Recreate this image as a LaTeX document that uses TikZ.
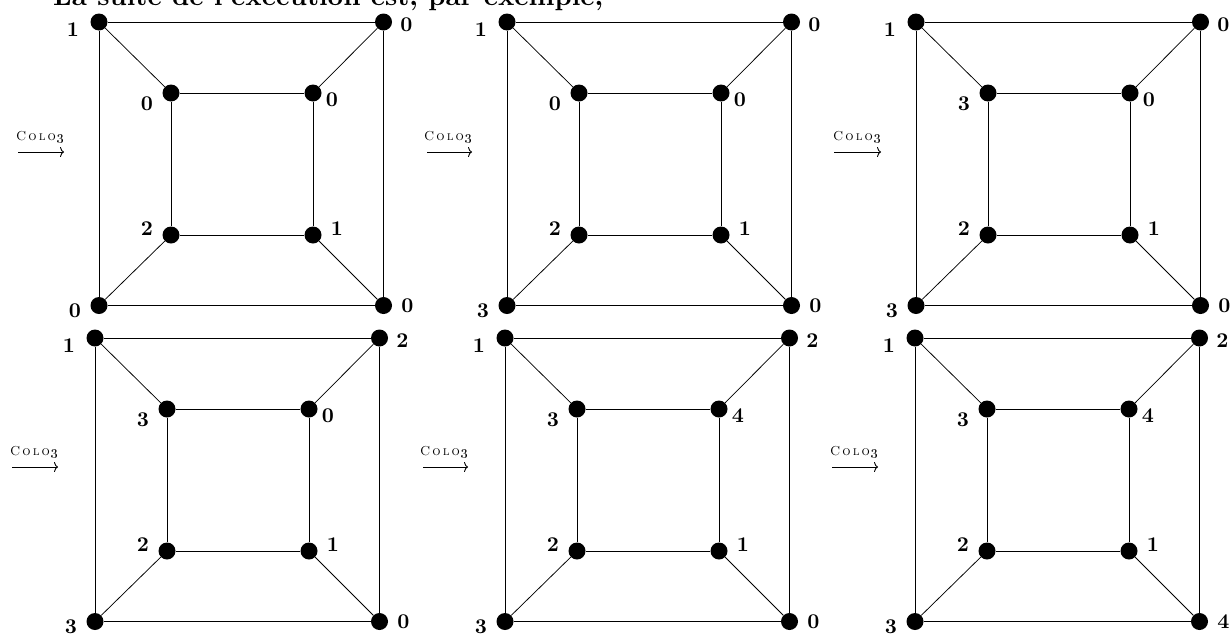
\documentclass[tikz,border=0pt]{standalone}
\usetikzlibrary{arrows.meta,calc}

% One cube graph: outer square a-b-c-d, inner square e-f-g-h, spokes between them
\newcommand{\cubegraph}[3]{%
  \begin{scope}[shift={(#2,#3)}]
    \node[vtx] (#1-a) at (0,0) {};
    \node[vtx] (#1-b) at (284.5,0) {};
    \node[vtx] (#1-c) at (284.5,283.5) {};
    \node[vtx] (#1-d) at (0,283.5) {};
    \node[vtx] (#1-e) at (72,71) {};
    \node[vtx] (#1-f) at (214,71) {};
    \node[vtx] (#1-g) at (214,213) {};
    \node[vtx] (#1-h) at (72,213) {};
  \end{scope}
  \draw[edge] (#1-a) -- (#1-b) -- (#1-c) -- (#1-d) -- (#1-a);
  \draw[edge] (#1-e) -- (#1-f) -- (#1-g) -- (#1-h) -- (#1-e);
  \draw[edge] (#1-a) -- (#1-e);
  \draw[edge] (#1-b) -- (#1-f);
  \draw[edge] (#1-c) -- (#1-g);
  \draw[edge] (#1-d) -- (#1-h);
}

% Bold colour value, enlarged
\newcommand{\val}[1]{\scalebox{2.1}{\bfseries #1}}

% Colour values written beside the eight vertices
\newcommand{\cubelabels}[9]{%
  \node[lbl] (#1-la) at ($(#1-a)+(-26,8)$) {\val{#2}};
  \node[lbl] (#1-lb) at ($(#1-b)+(23,3)$) {\val{#3}};
  \node[lbl] (#1-lc) at ($(#1-c)+(24,0)$) {\val{#4}};
  \node[lbl] (#1-ld) at ($(#1-d)+(-24,5.5)$) {\val{#5}};
  \node[lbl] (#1-le) at ($(#1-e)+(-24,11)$) {\val{#6}};
  \node[lbl] (#1-lf) at ($(#1-f)+(19,7)$) {\val{#7}};
  \node[lbl] (#1-lg) at ($(#1-g)+(24,-6)$) {\val{#8}};
  \node[lbl] (#1-lh) at ($(#1-h)+(-24,-6)$) {\val{#9}};
}

% Step arrow labelled Colo3
\newcommand{\coloname}{\scalebox{1.3}{\textsc{C\kern1.6pt o\kern1.6pt l\kern1.6pt o\kern1.2pt}\oldstylenums{3}}}
\newcommand{\coloarrow}[5]{%
  \coordinate (#1-s) at (#2,#4);
  \coordinate (#1-e) at (#3,#4);
  \node[captxt] (#1-t) at (#5,#4-15) {\coloname};
  \draw[colarrow] (#1-s) -- (#1-e);
}

\begin{document}
\begin{tikzpicture}[x=1pt,y=-1pt,
  vtx/.style={circle,fill=black,inner sep=0pt,minimum size=17pt},
  edge/.style={line width=0.75pt},
  lbl/.style={inner sep=0pt},
  captxt/.style={inner sep=0pt},
  colarrow/.style={line width=0.9pt,-{To[length=4pt,width=10pt]}}
]
\useasboundingbox (0,0) rectangle (1231,635);

\node[anchor=base west,inner sep=0pt] (intro) at (53,5)
  {\resizebox{550pt}{!}{\bfseries La suite de l'exécution est, par exemple,}};

\cubegraph{g1}{99}{22}
\cubegraph{g2}{507}{22}
\cubegraph{g3}{916}{22}
\cubegraph{g4}{95}{338}
\cubegraph{g5}{505}{338}
\cubegraph{g6}{915}{338}

\cubelabels{g1}{1}{0}{0}{0}{0}{0}{1}{2}
\cubelabels{g2}{1}{0}{0}{3}{0}{0}{1}{2}
\cubelabels{g3}{1}{0}{0}{3}{3}{0}{1}{2}
\cubelabels{g4}{1}{2}{0}{3}{3}{0}{1}{2}
\cubelabels{g5}{1}{2}{0}{3}{3}{4}{1}{2}
\cubelabels{g6}{1}{2}{4}{3}{3}{4}{1}{2}

\coloarrow{s1}{18}{64}{152}{40}
\coloarrow{s2}{427}{472}{152}{448}
\coloarrow{s3}{834}{881}{152}{857}
\coloarrow{s4}{12}{58}{467}{34}
\coloarrow{s5}{423}{468}{467}{444}
\coloarrow{s6}{832}{878}{467}{854}
\end{tikzpicture}
\end{document}
